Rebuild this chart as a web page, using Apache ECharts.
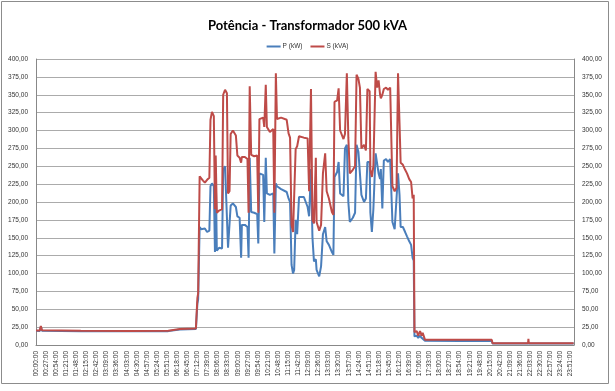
<!DOCTYPE html>
<html>
<head>
<meta charset="utf-8">
<script src="https://cdn.jsdelivr.net/npm/echarts@6/dist/echarts.min.js"></script>
<style>
html,body{margin:0;padding:0;background:#fff;}
#chart{width:615px;height:391px;}
</style>
</head>
<body>
<div id="chart"></div>
<script>
// Sample times (HH:MM)
const times = [
"00:00","00:10","00:13","00:16","02:00","04:10","05:54","05:59","06:25","07:08",
"07:12","07:14","07:18","07:22","07:27","07:32","07:38","07:44","07:47","07:51",
"07:56","07:59","08:01","08:04","08:10","08:18","08:21","08:26","08:31","08:34",
"08:38","08:41","08:47","08:55","08:59","09:05","09:09","09:11","09:19","09:26",
"09:29","09:32","09:36","09:44","09:52","09:55","09:58","10:08","10:11","10:15",
"10:18","10:26","10:35","10:38","10:42","10:45","10:56","11:11","11:16","11:20",
"11:24","11:28","11:31","11:35","11:39","11:44","11:57","12:07","12:11","12:16",
"12:20","12:24","12:29","12:31","12:38","12:43","12:48","12:54","12:58","13:04",
"13:12","13:16","13:19","13:26","13:30","13:34","13:43","13:47","13:52","13:56",
"14:00","14:08","14:14","14:18","14:23","14:27","14:31","14:38","14:43","14:47",
"14:53","14:55","14:59","15:03","15:09","15:13","15:17","15:21","15:23","15:27",
"15:31","15:37","15:42","15:48","15:52","15:54","16:00","16:05","16:09","16:13",
"16:16","16:22","16:28","16:33","16:39","16:44","16:48","16:51","16:53","16:59",
"17:03","17:08","17:12","17:15","17:21","18:55","20:20","20:22","21:57","21:58",
"21:59","23:59"
];
// P (kW)
const pKW = [
19.8,19.7,25.5,20,19.3,19.1,19.4,21,21.8,22.5,
58,64,165,162,160,163,158,160,222,226,
222,130,248,132,136,135,245,250,248,136,
138,195,198,193,180,178,122,168,168,165,
122,262,186,185,183,142,240,238,172,262,
212,210,212,128,226,222,218,214,205,200,
112,100,105,175,155,207,207,193,180,246,
150,117,120,105,96,110,155,165,145,140,
130,126,235,242,256,212,208,275,280,200,
172,178,185,280,270,268,210,200,205,256,
256,185,158,190,268,270,240,232,246,191,
258,260,256,260,258,172,162,160,240,210,
165,165,158,152,145,140,122,118,12,13,
10,13,10,12,5.8,5.6,5.6,2.1,2.1,3,
2.1,2.1
];
// S (kVA)
const sKVA = [
20.3,20.2,26.5,20.5,19.8,19.6,19.9,21.5,22.3,23,
66,72,236,234,230,227,231,234,315,326,
320,190,265,185,188,190,350,357,352,212,
215,295,300,293,265,262,255,263,263,260,
185,362,266,264,265,185,316,318,305,364,
305,298,302,185,380,316,318,315,296,290,
168,158,160,274,278,292,290,289,215,358,
175,170,262,172,160,168,240,268,215,205,
186,182,340,342,359,300,288,295,380,290,
240,245,250,378,372,360,275,280,272,358,
355,245,235,250,382,360,370,350,345,350,
358,360,357,360,358,222,215,220,380,310,
255,252,245,240,232,228,205,210,18,19.5,
13,19.5,13,17,7.5,7.2,7.2,2.3,2.3,8.5,
2.3,2.3
];
const yTicks = {min: 0, max: 400, step: 25};
const xTicks = {min: 0, max: 1440, step: 27};

function toMin(t){ const p = t.split(':'); return (+p[0])*60 + (+p[1]); }
function fmtTime(v){
  const h = Math.floor(v/60), m = Math.round(v%60);
  return String(h).padStart(2,'0') + ':' + String(m).padStart(2,'0') + ':00';
}
function fmtNum(v){ return v.toFixed(2).replace('.', ','); }

const FONT = 'Liberation Sans';
const chart = echarts.init(document.getElementById('chart'), null, {renderer:'canvas'});
const yAxisBase = {
  type: 'value', min: yTicks.min, max: yTicks.max, interval: yTicks.step,
  axisLine: {show: true, lineStyle: {color: '#888888', width: 1}},
  axisTick: {show: false},
  axisLabel: {formatter: fmtNum, fontFamily: FONT, fontSize: 6.5, color: '#333', margin: 8}
};
chart.setOption({
  animation: false,
  backgroundColor: '#ffffff',
  title: {
    text: 'Potência - Transformador 500 kVA', left: 'center', top: 14,
    textStyle: {fontFamily: 'Lato', fontWeight: 'bold', fontSize: 13, color: '#000'}
  },
  legend: {
    top: 38, left: 'center', itemWidth: 14, itemHeight: 2, itemGap: 8, icon: 'rect',
    textStyle: {fontFamily: FONT, fontSize: 6.5, color: '#333', padding: [0,0,0,-3]},
    data: ['P (kW)', 'S (kVA)']
  },
  grid: {left: 36, right: 41, top: 59, bottom: 46, containLabel: false},
  xAxis: {
    type: 'value', min: xTicks.min, max: xTicks.max, interval: xTicks.step,
    axisLine: {show: true, lineStyle: {color: '#888888'}},
    axisTick: {show: false},
    splitLine: {show: false},
    axisLabel: {rotate: 90, formatter: fmtTime, showMaxLabel: false, fontFamily: FONT, fontSize: 6.5, color: '#333', margin: 6}
  },
  yAxis: [
    Object.assign({}, yAxisBase, {position: 'left', splitLine: {show: true, lineStyle: {color: '#ABABAB', width: 1}}}),
    Object.assign({}, yAxisBase, {position: 'right', splitLine: {show: false}})
  ],
  graphic: [{
    type: 'rect', shape: {x: 1.5, y: 1.5, width: 607, height: 382},
    style: {fill: 'none', stroke: '#8C8C8C', lineWidth: 1}, silent: true, z: 100
  }],
  series: [
    {name: 'P (kW)', type: 'line', yAxisIndex: 0, showSymbol: false, symbol: 'none',
     lineStyle: {color: '#4A7EBB', width: 2}, itemStyle: {color: '#4A7EBB'},
     data: times.map((t,i) => [toMin(t), pKW[i]])},
    {name: 'S (kVA)', type: 'line', yAxisIndex: 0, showSymbol: false, symbol: 'none',
     lineStyle: {color: '#BE4B48', width: 2}, itemStyle: {color: '#BE4B48'},
     data: times.map((t,i) => [toMin(t), sKVA[i]])}
  ]
});
</script>
</body>
</html>
